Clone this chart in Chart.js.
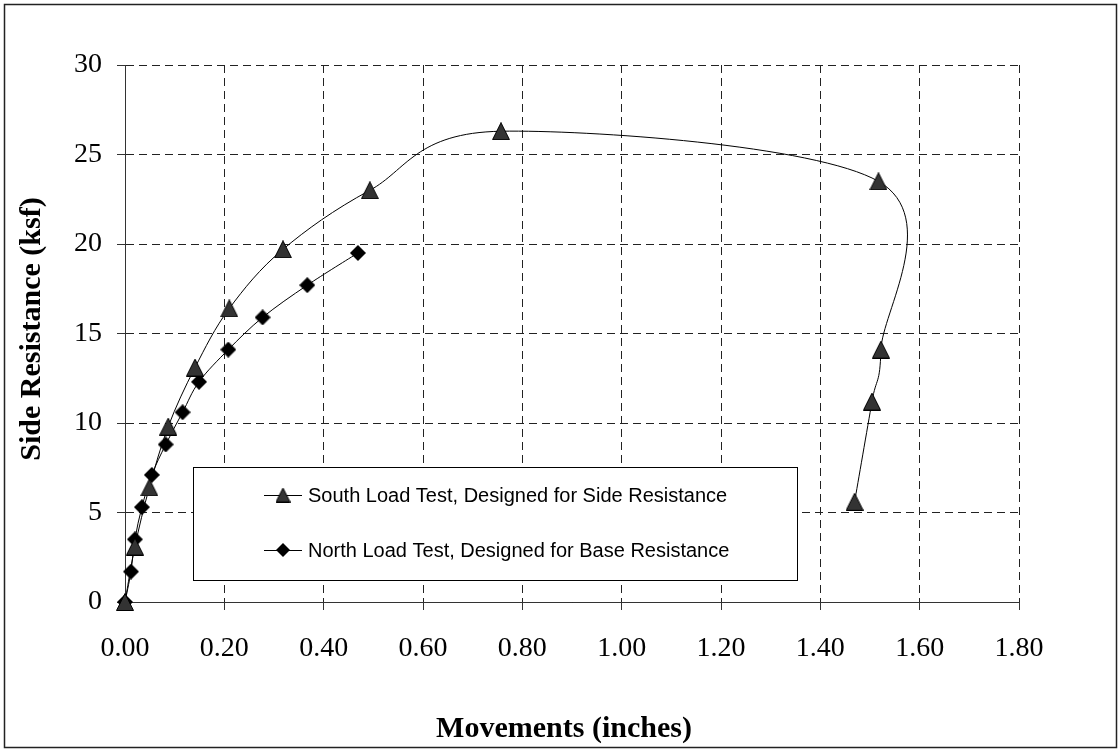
<!DOCTYPE html>
<html>
<head>
<meta charset="utf-8">
<title>Side Resistance vs Movements</title>
<script src="https://cdn.jsdelivr.net/npm/chart.js@4.4.1/dist/chart.umd.min.js"></script>
<style>
  html, body { margin: 0; padding: 0; background: #fff; }
  #wrap { width: 1118px; height: 750px; }
</style>
</head>
<body>
<div id="wrap"><canvas id="loadChart" width="1118" height="750"></canvas></div>
<script>
// ---- data ----
const southLabel = 'South Load Test, Designed for Side Resistance';
const southMove = [0, 0.020, 0.049, 0.087, 0.141, 0.210, 0.318, 0.493, 0.757, 1.517, 1.522, 1.504, 1.469];
const southRes  = [0, 3.1, 6.4, 9.8, 13.1, 16.4, 19.7, 23.0, 26.3, 23.5, 14.1, 11.2, 5.6];

const northLabel = 'North Load Test, Designed for Base Resistance';
const northMove = [0, 0.012, 0.020, 0.034, 0.054, 0.082, 0.116, 0.149, 0.208, 0.277, 0.367, 0.469];
const northRes  = [0, 1.7, 3.5, 5.3, 7.1, 8.8, 10.6, 12.3, 14.1, 15.9, 17.7, 19.5];

const xMin = 0, xMax = 1.8, xStep = 0.2;
const yMin = 0, yMax = 30, yStep = 5;

// marker images (Excel style, centred on the point)
function makeTriangle(size) {
    const c = document.createElement('canvas');
    c.width = size; c.height = size;
    const g = c.getContext('2d');
    g.beginPath();
    g.moveTo(size / 2, 0.5);
    g.lineTo(size - 0.5, size - 0.5);
    g.lineTo(0.5, size - 0.5);
    g.closePath();
    g.fillStyle = '#333333';
    g.fill();
    g.lineWidth = 1;
    g.strokeStyle = '#000';
    g.stroke();
    return c;
}
function makeDiamond(size) {
    const c = document.createElement('canvas');
    c.width = size; c.height = size;
    const g = c.getContext('2d');
    g.beginPath();
    g.moveTo(size / 2, 0);
    g.lineTo(size, size / 2);
    g.lineTo(size / 2, size);
    g.lineTo(0, size / 2);
    g.closePath();
    g.fillStyle = '#000';
    g.fill();
    return c;
}
const triMarker = makeTriangle(18);
const diaMarker = makeDiamond(16);
const triLegend = makeTriangle(15);
const diaLegend = makeDiamond(14);

// Excel "smoothed line" = Catmull-Rom, control points at 1/6 of neighbour span
const excelSmooth = {
    id: 'excelSmooth',
    beforeDatasetDraw(chart, args) {
        const meta = args.meta;
        const pts = meta.data;
        const n = pts.length;
        for (let i = 0; i < n; i++) {
            const p0 = pts[Math.max(i - 1, 0)];
            const p1 = pts[i];
            const p2 = pts[Math.min(i + 1, n - 1)];
            const dx = (p2.x - p0.x) / 6;
            const dy = (p2.y - p0.y) / 6;
            p1.cp1x = p1.x - dx; p1.cp1y = p1.y - dy;
            p1.cp2x = p1.x + dx; p1.cp2y = p1.y + dy;
        }
        meta.dataset._pointsUpdated = true;
    }
};

// legend box, axis titles and outer frame
const decorations = {
    id: 'decorations',
    afterDraw(chart) {
        const ctx = chart.ctx;
        ctx.save();

        // outer frame
        ctx.lineWidth = 1.5;
        ctx.strokeStyle = '#222';
        ctx.strokeRect(4.5, 4.5, 1112, 743);

        // legend
        ctx.fillStyle = '#fff';
        ctx.fillRect(193, 467, 604, 113);
        ctx.lineWidth = 1;
        ctx.strokeStyle = '#000';
        ctx.strokeRect(193.5, 467.5, 604, 113);

        const rows = [
            { y: 495, label: southLabel, img: triLegend },
            { y: 550, label: northLabel, img: diaLegend }
        ];
        rows.forEach(r => {
            ctx.beginPath();
            ctx.moveTo(264, r.y + 0.5);
            ctx.lineTo(302, r.y + 0.5);
            ctx.strokeStyle = '#000';
            ctx.lineWidth = 1;
            ctx.stroke();
            ctx.drawImage(r.img, 283 - r.img.width / 2, r.y - r.img.height / 2);
            ctx.fillStyle = '#000';
            ctx.font = '20px "Liberation Sans", Arial, sans-serif';
            ctx.textAlign = 'left';
            ctx.textBaseline = 'middle';
            ctx.fillText(r.label, 308, r.y + 1);
        });

        // axis titles
        ctx.fillStyle = '#000';
        ctx.font = 'bold 30px "Liberation Serif", "Times New Roman", serif';
        ctx.textAlign = 'center';
        ctx.textBaseline = 'alphabetic';
        ctx.fillText('Movements (inches)', 564, 736.5);

        ctx.translate(39.5, 329);
        ctx.rotate(-Math.PI / 2);
        ctx.fillText('Side Resistance (ksf)', 0, 0);

        ctx.restore();
    }
};

Chart.defaults.font.family = '"Liberation Serif", "Times New Roman", serif';
Chart.defaults.color = '#000';

const ctx = document.getElementById('loadChart').getContext('2d');
const loadChart = new Chart(ctx, {
    type: 'line',
    data: {
        datasets: [
            {
                label: southLabel,
                data: southMove.map((x, i) => ({ x: x, y: southRes[i] })),
                borderColor: '#000',
                borderWidth: 1,
                tension: 0.4,
                pointStyle: triMarker,
                clip: false,
                fill: false
            },
            {
                label: northLabel,
                data: northMove.map((x, i) => ({ x: x, y: northRes[i] })),
                borderColor: '#000',
                borderWidth: 1,
                tension: 0.4,
                pointStyle: diaMarker,
                clip: false,
                fill: false
            }
        ]
    },
    options: {
        responsive: false,
        animation: false,
        devicePixelRatio: 1,
        layout: { padding: { top: 65, right: 99, left: 0, bottom: 0 } },
        plugins: {
            legend: { display: false },
            tooltip: { enabled: false }
        },
        scales: {
            x: {
                type: 'linear',
                min: xMin,
                max: xMax,
                afterFit: function(scale) { scale.height = 148; },
                ticks: {
                    stepSize: xStep,
                    padding: 22,
                    maxRotation: 0,
                    font: { size: 28 },
                    callback: v => Number(v).toFixed(2)
                },
                grid: { color: '#222', lineWidth: 1, tickLength: 8, tickColor: '#333', tickBorderDash: [] },
                border: { display: true, color: '#333', width: 1, dash: [8, 5] }
            },
            y: {
                type: 'linear',
                min: yMin,
                max: yMax,
                afterFit: function(scale) { scale.width = 125; },
                ticks: {
                    stepSize: yStep,
                    padding: 15,
                    font: { size: 28 }
                },
                grid: { color: '#222', lineWidth: 1, tickLength: 8, tickColor: '#333', tickBorderDash: [] },
                border: { display: true, color: '#333', width: 1, dash: [8, 5] }
            }
        }
    },
    plugins: [excelSmooth, decorations]
});
</script>
</body>
</html>
